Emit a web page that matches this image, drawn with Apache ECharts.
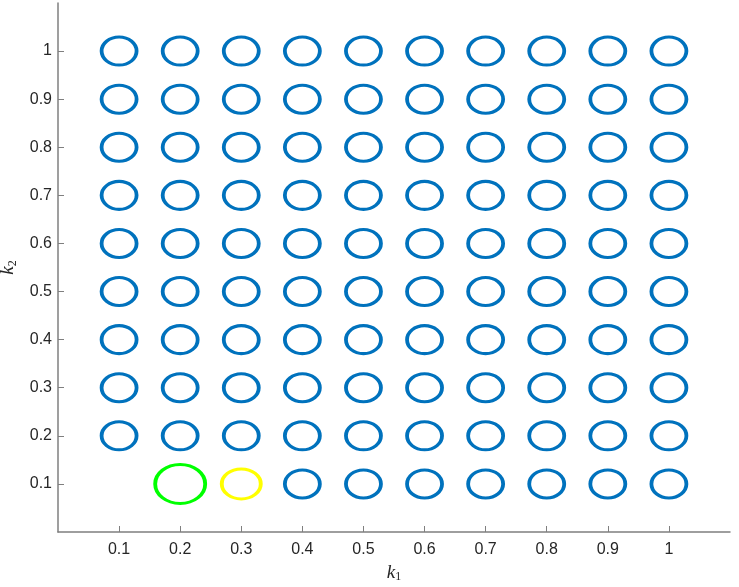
<!DOCTYPE html>
<html>
<head>
<meta charset="utf-8">
<script src="https://cdn.jsdelivr.net/npm/echarts@6/dist/echarts.min.js"></script>
<style>html,body{margin:0;padding:0;background:#fff}#c{width:739px;height:587px}</style>
</head>
<body>
<div id="c"></div>
<script>
// Data
const k1Values = [0.1, 0.2, 0.3, 0.4, 0.5, 0.6, 0.7, 0.8, 0.9, 1.0];
const k2Values = [0.1, 0.2, 0.3, 0.4, 0.5, 0.6, 0.7, 0.8, 0.9, 1.0];
const k1Ticks = [0.1, 0.2, 0.3, 0.4, 0.5, 0.6, 0.7, 0.8, 0.9, 1];
const k2Ticks = [0.1, 0.2, 0.3, 0.4, 0.5, 0.6, 0.7, 0.8, 0.9, 1];
const excludedPoints = [[0.1, 0.1], [0.2, 0.1], [0.3, 0.1]];
const greenPoints = [[0.2, 0.1]];
const yellowPoints = [[0.3, 0.1]];

const bluePoints = [];
k1Values.forEach(function (a) {
  k2Values.forEach(function (b) {
    const skip = excludedPoints.some(function (p) { return Math.abs(p[0] - a) < 1e-9 && Math.abs(p[1] - b) < 1e-9; });
    if (!skip) bluePoints.push([a, b]);
  });
});

const chart = echarts.init(document.getElementById('c'), null, {renderer: 'canvas'});
const axisColor = '#7f7f7f';
const labelColor = '#262626';
const fmt = function (v) { return String(+(+v).toFixed(1)); };

function nameRich() {
  return {
    i: {fontFamily: 'Liberation Serif', fontStyle: 'italic', fontSize: 19, color: labelColor},
    s: {fontFamily: 'Liberation Serif', fontSize: 12, color: labelColor, padding: [9, 0, 0, 0]}
  };
}

chart.setOption({
  animation: false,
  backgroundColor: '#ffffff',
  grid: {left: 58, right: 9, top: 3, bottom: 55, containLabel: false, outerBoundsMode: 'none'},
  xAxis: {
    type: 'value', min: 0, max: 1.1, interval: 0.1,
    name: '{i|k}{s|1}', nameLocation: 'middle', nameGap: 30,
    nameTextStyle: {rich: nameRich()},
    axisLine: {show: true, lineStyle: {color: axisColor, width: 1.5}},
    axisTick: {show: true, inside: true, length: 6, customValues: k1Ticks, lineStyle: {color: axisColor}},
    axisLabel: {show: true, customValues: k1Ticks, formatter: fmt, color: labelColor, fontSize: 16, fontFamily: 'Liberation Sans', margin: 10},
    splitLine: {show: false}
  },
  yAxis: {
    type: 'value', min: 0, max: 1.1, interval: 0.1,
    name: '{i|k}{s|2}', nameLocation: 'middle', nameGap: 38,
    nameTextStyle: {rich: nameRich()},
    axisLine: {show: true, lineStyle: {color: axisColor, width: 1.5}},
    axisTick: {show: true, inside: true, length: 6, customValues: k2Ticks, lineStyle: {color: axisColor}},
    axisLabel: {show: true, customValues: k2Ticks, formatter: fmt, color: labelColor, fontSize: 16, fontFamily: 'Liberation Sans', margin: 6},
    splitLine: {show: false}
  },
  series: [
    {
      type: 'scatter', data: bluePoints, symbol: 'circle', symbolSize: [35, 28],
      itemStyle: {color: 'rgba(0,0,0,0)', borderColor: '#0072BD', borderWidth: 3.4, opacity: 1},
      emphasis: {disabled: true}
    },
    {
      type: 'scatter', data: greenPoints, symbol: 'circle', symbolSize: [50, 39],
      itemStyle: {color: 'rgba(0,0,0,0)', borderColor: '#00FF00', borderWidth: 3.4, opacity: 1},
      emphasis: {disabled: true}
    },
    {
      type: 'scatter', data: yellowPoints, symbol: 'circle', symbolSize: [39, 30],
      itemStyle: {color: 'rgba(0,0,0,0)', borderColor: '#FFFF00', borderWidth: 3.4, opacity: 1},
      emphasis: {disabled: true}
    }
  ]
});
</script>
</body>
</html>
